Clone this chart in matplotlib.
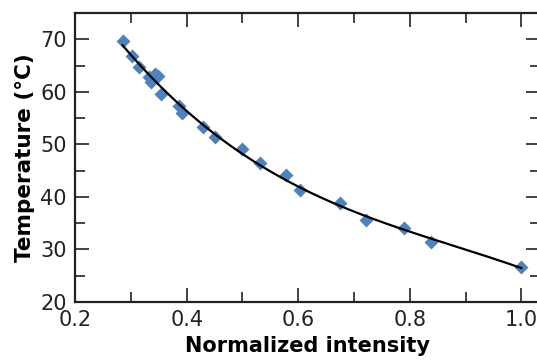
import numpy as np
import matplotlib
matplotlib.use('Agg')
import matplotlib.pyplot as plt
from matplotlib.ticker import MultipleLocator

# Measured points (normalized intensity, temperature in degC)
intensity = [0.285, 0.302, 0.315, 0.333, 0.336, 0.343, 0.348, 0.354, 0.387, 0.391,
             0.430, 0.451, 0.499, 0.532, 0.578, 0.604, 0.675, 0.721, 0.790, 0.838, 1.000]
temperature = [69.7, 66.9, 64.8, 62.9, 61.9, 63.4, 63.1, 59.6, 57.4, 56.0,
               53.3, 51.4, 49.2, 46.4, 44.1, 41.4, 38.8, 35.7, 34.0, 31.4, 26.7]

# Smooth fit through the measured points
coef = np.polyfit(intensity, temperature, 3)
xfit = np.linspace(min(intensity), max(intensity), 200)
yfit = np.polyval(coef, xfit)

fig = plt.figure(figsize=(5.37, 3.63), dpi=100)
ax = fig.add_axes([0.14, 0.168, 0.865, 0.796])

ax.plot(intensity, temperature, 'D', color='#4F81BD', ms=7, mec='none', zorder=2)
ax.plot(xfit, yfit, color='black', lw=1.6, zorder=3)

ax.set_xlim(0.2, 1.033)
ax.set_ylim(20, 75)
ax.xaxis.set_major_locator(MultipleLocator(0.2))
ax.xaxis.set_minor_locator(MultipleLocator(0.1))
ax.yaxis.set_major_locator(MultipleLocator(10))
ax.yaxis.set_minor_locator(MultipleLocator(5))
ax.set_xticks([0.2, 0.4, 0.6, 0.8, 1.0])
ax.set_xticklabels(['0.2', '0.4', '0.6', '0.8', '1.0'])

ax.tick_params(which='both', direction='in', top=True, right=True, width=1.2,
               labelsize=15, pad=6, colors='#222222')
ax.tick_params(which='major', length=10)
ax.tick_params(which='minor', length=7)
for s in ax.spines.values():
    s.set_linewidth(1.6)
    s.set_color('#222222')
# the right edge is cut off in the original figure
ax.spines['right'].set_visible(False)

ax.set_xlabel('Normalized intensity', fontsize=15, fontweight='bold', labelpad=4)
ax.set_ylabel('Temperature (°C)', fontsize=15.5, fontweight='bold', labelpad=4)

fig.savefig('out.png', dpi=100)
